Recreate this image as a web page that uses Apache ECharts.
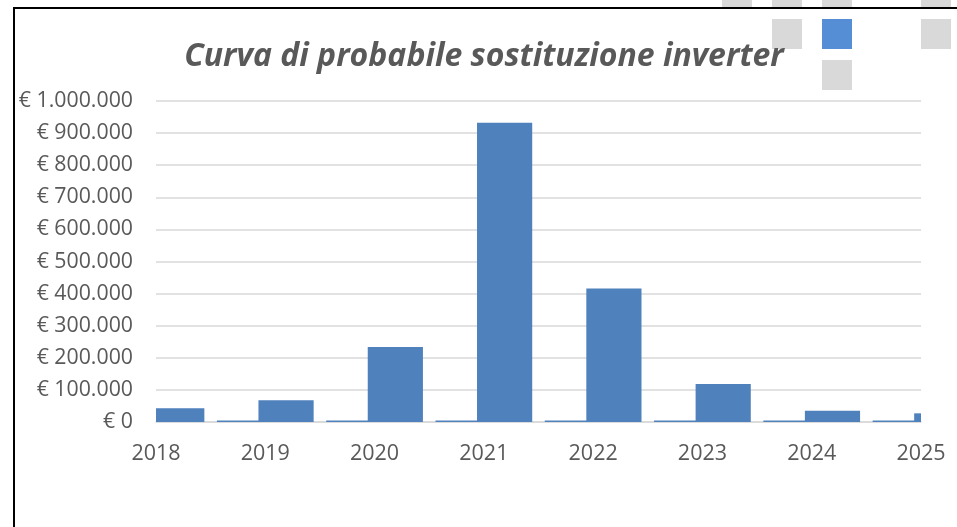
<!DOCTYPE html>
<html>
<head>
<meta charset="utf-8">
<style>
  html, body { margin: 0; padding: 0; background: #fff; }
  #chart { width: 957px; height: 527px; }
</style>
<script src="https://cdn.jsdelivr.net/npm/echarts@6/dist/echarts.min.js"></script>
</head>
<body>
<div id="chart"></div>
<script>
// anni sull'asse x (asse data, barre centrate sull'anno)
var anni = [2018, 2019, 2020, 2021, 2022, 2023, 2024, 2025];
// serie piccola (barre quasi a zero, a sinistra)
var serieMinima = [5000, 5000, 5000, 5000, 5000, 5000, 5000, 5000];
// sostituzioni inverter previste (€)
var sostituzioni = [43000, 68000, 234000, 932000, 416000, 118000, 35000, 27000];
var yTicks = [0, 100000, 200000, 300000, 400000, 500000, 600000, 700000, 800000, 900000, 1000000];

var font = "'Open Sans', sans-serif";
var blu = "#4f81bd";

function euro(v) {
  var s = String(Math.round(v));
  s = s.replace(/\B(?=(\d{3})+(?!\d))/g, ".");
  return "€ " + s;
}

// barre raggruppate come in Excel, tagliate ai bordi dell'area del grafico
function barreTagliate(offset) {
  return function (params, api) {
    var base = api.coord([api.value(0), 0]);
    var top = api.coord([api.value(0), api.value(1)]);
    var band = api.size([1, 0])[0];
    var w = band * 0.505;
    var cx = base[0] + band * offset;
    var rect = echarts.graphic.clipRectByRect(
      { x: cx - w / 2, y: top[1], width: w, height: base[1] - top[1] },
      {
        x: params.coordSys.x,
        y: params.coordSys.y,
        width: params.coordSys.width,
        height: params.coordSys.height
      }
    );
    return rect && {
      type: "rect",
      shape: rect,
      style: { fill: blu }
    };
  };
}

var myChart = echarts.init(document.getElementById("chart"));

var option = {
  animation: false,
  backgroundColor: "#fff",
  title: {
    text: "Curva di probabile sostituzione inverter",
    left: 484,
    textAlign: "center",
    top: 41,
    padding: 0,
    textStyle: {
      fontFamily: font,
      fontSize: 32,
      fontStyle: "italic",
      fontWeight: "bold",
      color: "#595959"
    }
  },
  grid: {
    left: 156,
    right: 36,
    top: 101,
    bottom: 105
  },
  xAxis: {
    type: "value",
    min: anni[0],
    max: anni[anni.length - 1],
    interval: 1,
    splitLine: { show: false },
    axisTick: { show: false },
    axisLine: { show: true, lineStyle: { color: "#d9d9d9", width: 1.5 } },
    axisLabel: {
      margin: 21,
      fontFamily: font,
      fontSize: 21.5,
      color: "#595959",
      showMinLabel: true,
      showMaxLabel: true,
      formatter: function (v) { return String(v); }
    }
  },
  yAxis: {
    type: "value",
    min: yTicks[0],
    max: yTicks[yTicks.length - 1],
    interval: 100000,
    axisLine: { show: false },
    axisTick: { show: false },
    splitLine: { lineStyle: { color: "#d9d9d9", width: 1.5 } },
    axisLabel: {
      margin: 23,
      fontFamily: font,
      fontSize: 21.3,
      color: "#595959",
      formatter: euro
    }
  },
  series: [
    {
      name: "base",
      type: "custom",
      renderItem: barreTagliate(-0.19),
      encode: { x: 0, y: 1 },
      data: anni.map(function (a, i) { return [a, serieMinima[i]]; })
    },
    {
      name: "sostituzioni",
      type: "custom",
      renderItem: barreTagliate(0.19),
      encode: { x: 0, y: 1 },
      data: anni.map(function (a, i) { return [a, sostituzioni[i]]; })
    }
  ],
  graphic: [
    // bordo nero del grafico
    {
      type: "rect",
      z: 100,
      shape: { x: 14, y: 8, width: 1000, height: 600 },
      style: { fill: null, stroke: "#000", lineWidth: 2 }
    },
    // quadratini in alto a destra
    { type: "rect", shape: { x: 722, y: 0, width: 30, height: 7 }, style: { fill: "#d9d9d9" } },
    { type: "rect", shape: { x: 772, y: 0, width: 30, height: 7 }, style: { fill: "#d9d9d9" } },
    { type: "rect", shape: { x: 822, y: 0, width: 30, height: 7 }, style: { fill: "#d9d9d9" } },
    { type: "rect", shape: { x: 921, y: 0, width: 30, height: 7 }, style: { fill: "#d9d9d9" } },
    { type: "rect", shape: { x: 772, y: 19, width: 30, height: 30 }, style: { fill: "#d9d9d9" } },
    { type: "rect", shape: { x: 822, y: 19, width: 30, height: 30 }, style: { fill: "#558ed5" } },
    { type: "rect", shape: { x: 921, y: 19, width: 30, height: 30 }, style: { fill: "#d9d9d9" } },
    { type: "rect", shape: { x: 822, y: 60, width: 30, height: 30 }, style: { fill: "#d9d9d9" } }
  ]
};

myChart.setOption(option);
</script>
</body>
</html>
